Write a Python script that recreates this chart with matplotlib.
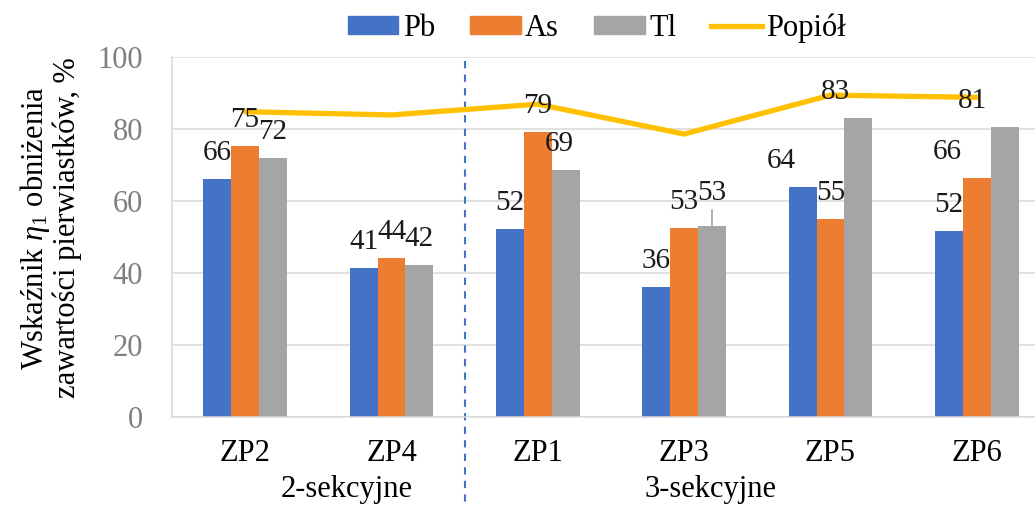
import matplotlib
matplotlib.use("Agg")
import matplotlib.pyplot as plt
from matplotlib.patches import Patch
from matplotlib.lines import Line2D
import numpy as np

# --- data -------------------------------------------------------------
categories = ["ZP2", "ZP4", "ZP1", "ZP3", "ZP5", "ZP6"]
pb = [66.0, 41.4, 52.1, 36.0, 63.8, 51.8]
as_ = [75.3, 44.3, 79.3, 52.6, 54.9, 66.4]
tl = [72.0, 42.1, 68.6, 53.1, 83.1, 80.6]
popiol = [84.8, 83.9, 86.9, 78.6, 89.4, 88.8]
series_names = ["Pb", "As", "Tl", "Popiół"]
group_names = ["2-sekcyjne", "3-sekcyjne"]
y_ticks = [0, 20, 40, 60, 80, 100]

# --- style ------------------------------------------------------------
plt.rcParams["font.family"] = ["Liberation Serif", "DejaVu Serif"]
plt.rcParams["mathtext.fontset"] = "custom"
plt.rcParams["mathtext.rm"] = "Liberation Serif"
plt.rcParams["mathtext.it"] = "Liberation Serif:italic"
FS = 22
C_PB, C_AS, C_TL, C_LINE = "#4472C4", "#ED7D31", "#A5A5A5", "#FFC000"
GRID = "#D9D9D9"

W, H, DPI = 1035, 505, 100
fig = plt.figure(figsize=(W / DPI, H / DPI), dpi=DPI)
left_px, right_px, top_px, bottom_px = 172, 1050, 57, 417
ax = fig.add_axes([left_px / W, 1 - bottom_px / H,
                   (right_px - left_px) / W, (bottom_px - top_px) / H])

x = np.arange(len(categories))
bw = 0.19
series = [(pb, C_PB, -bw), (as_, C_AS, 0.0), (tl, C_TL, bw)]
for vals, col, off in series:
    ax.bar(x + off, vals, width=bw, color=col, zorder=2)

ax.plot(x, popiol, color=C_LINE, lw=3.8, solid_capstyle="round",
        solid_joinstyle="round", zorder=3)

ax.set_xlim(-0.5, len(categories) - 0.5)
ax.set_ylim(0, 100)
ax.set_yticks(y_ticks)
ax.set_xticks(x)
ax.set_xticklabels(categories, fontsize=FS)
ax.tick_params(axis="y", length=0, pad=21, labelsize=FS, labelcolor="#7F7F7F")
ax.tick_params(axis="x", length=0, pad=16)
ax.grid(axis="y", color=GRID, lw=1.1, zorder=0)
ax.set_axisbelow(True)
for s in ("top", "right"):
    ax.spines[s].set_visible(False)
for s in ("left", "bottom"):
    ax.spines[s].set_color(GRID)
    ax.spines[s].set_linewidth(1.1)

# value labels above the bars (px nudges keep them clear of neighbours)
px = 72 / DPI
nudge = {(4, 0): -21, (4, 2): -23, (5, 1): -30, (5, 2): -32, (2, 2): -6}
for j, (vals, col, off) in enumerate(series):
    for i, v in enumerate(vals):
        dx = nudge.get((i, j), 0)
        dy = 26
        if (i, j) == (3, 2):
            dy = 33
            ax.annotate("", xy=(x[i] + off, v), xytext=(0, 16 * px),
                        textcoords="offset points",
                        arrowprops=dict(arrowstyle="-", color="#A5A5A5",
                                        lw=1.2, shrinkA=0, shrinkB=0),
                        zorder=4)
        ax.annotate(f"{v:.0f}", xy=(x[i] + off, v),
                    xytext=(dx * px, dy * px), textcoords="offset points",
                    ha="center", va="center", fontsize=21, color="#1A1A1A",
                    zorder=5)

# separator between the two groups
ax.plot([1.5, 1.5], [99, -24], color=C_PB, lw=1.5, ls=(0, (3.5, 3)),
        clip_on=False, zorder=1)

# group captions under the category labels
ax.text(0.69, -0.20, group_names[0], transform=ax.get_xaxis_transform(),
        ha="center", va="center", fontsize=FS)
ax.text(3.18, -0.20, group_names[1], transform=ax.get_xaxis_transform(),
        ha="center", va="center", fontsize=FS)

fig.text(50 / W, 1 - 228 / H,
         "Wskaźnik $\\eta_{\\mathit{1}}$ obniżenia\nzawartości pierwiastków, %",
         rotation=90, ha="center", va="center", fontsize=FS,
         multialignment="center", linespacing=1.05)

handles = [Patch(color=C_PB), Patch(color=C_AS), Patch(color=C_TL),
           Line2D([], [], color=C_LINE, lw=3.8)]
fig.legend(handles, series_names, loc="center", bbox_to_anchor=(597 / W, 1 - 28 / H),
           ncol=4, frameon=False, fontsize=FS, handlelength=1.65,
           handleheight=0.5, handletextpad=0.15, columnspacing=1.15)

fig.savefig("out.png", dpi=DPI)
